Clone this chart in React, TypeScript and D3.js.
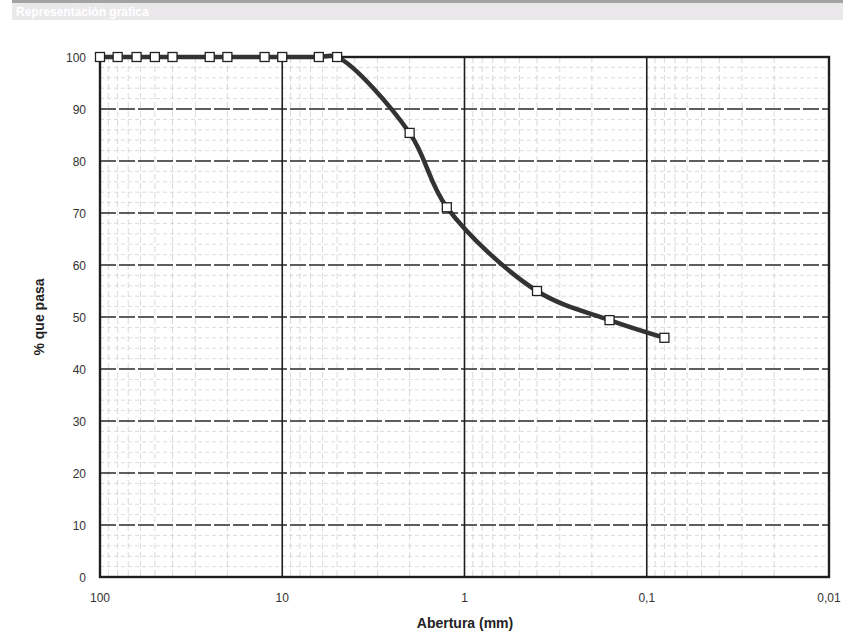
import React from "react";
import * as d3 from "d3";

const sieveSizes = [100, 80, 63, 50, 40, 25, 20, 12.5, 10, 6.3, 5, 2, 1.25, 0.4, 0.16, 0.08];
const percentPassing = [100, 100, 100, 100, 100, 100, 100, 100, 100, 100, 100, 85.4, 71.1, 55.0, 49.4, 46.0];
const xTicks = [100, 10, 1, 0.1, 0.01];
const xTickLabels = ["100", "10", "1", "0,1", "0,01"];
const yTicks = [0, 10, 20, 30, 40, 50, 60, 70, 80, 90, 100];

const W = 843, H = 641;
const L = 100, R = 829, T = 57, B = 577;

export default function App() {
  const x = d3.scaleLog().domain([100, 0.01]).range([L, R]);
  const y = d3.scaleLinear().domain([0, 100]).range([B, T]);

  const minorX: number[] = [];
  [0.01, 0.1, 1, 10].forEach((d) => {
    for (let k = 2; k <= 9; k++) minorX.push(d * k);
  });
  const minorY: number[] = [];
  for (let v = 2; v < 100; v += 2) if (v % 10 !== 0) minorY.push(v);

  const pts = sieveSizes.map((s, i) => [x(s), y(percentPassing[i])] as [number, number]);
  const line = d3.line().curve(d3.curveCatmullRom.alpha(0.5))(pts) || "";

  const font = "'Liberation Sans', Arial, sans-serif";

  return (
    <svg width={W} height={H} style={{ position: "absolute", left: 0, top: 0, background: "#fff" }}>
      {/* faded header strip */}
      <rect x={12} y={0} width={831} height={3} fill="#666" opacity={0.6} />
      <rect x={12} y={3} width={831} height={17} fill="#ebe8ec" />
      <text x={16} y={16} fontFamily={font} fontSize={12} fontWeight="bold" fill="#ffffff">
        Representación gráfica
      </text>

      {/* minor vertical grid */}
      {minorX.map((v, i) => (
        <line key={"mx" + i} x1={x(v)} x2={x(v)} y1={T} y2={B} stroke="#cfcfcf" strokeWidth={0.8} strokeDasharray="6,3" />
      ))}
      {/* minor horizontal grid */}
      {minorY.map((v, i) => (
        <line key={"my" + i} x1={L} x2={R} y1={y(v)} y2={y(v)} stroke="#d2d2d2" strokeWidth={0.8} strokeDasharray="4,3" />
      ))}
      {/* major horizontal grid */}
      {yTicks.slice(1, -1).map((v) => (
        <line key={"hy" + v} x1={L} x2={R} y1={y(v)} y2={y(v)} stroke="#2a2a2a" strokeWidth={1.5} strokeDasharray="16,3" />
      ))}
      {/* major vertical grid */}
      {xTicks.slice(1, -1).map((v) => (
        <line key={"vx" + v} x1={x(v)} x2={x(v)} y1={T} y2={B} stroke="#1e1e1e" strokeWidth={1.6} />
      ))}
      {/* frame */}
      <rect x={L} y={T} width={R - L} height={B - T} fill="none" stroke="#1e1e1e" strokeWidth={2.4} />

      {/* y ticks */}
      {yTicks.map((v) => (
        <text key={"yt" + v} x={L - 14} y={y(v) + 4.5} textAnchor="end" fontFamily={font} fontSize={12} fill="#333">
          {v}
        </text>
      ))}
      {/* x ticks */}
      {xTicks.map((v, i) => (
        <text key={"xt" + v} x={x(v)} y={602} textAnchor="middle" fontFamily={font} fontSize={12} fill="#333">
          {xTickLabels[i]}
        </text>
      ))}
      <text x={465} y={628} textAnchor="middle" fontFamily={font} fontSize={14} fontWeight="bold" fill="#222">
        Abertura (mm)
      </text>
      <text
        transform={`translate(44,${(T + B) / 2}) rotate(-90)`}
        textAnchor="middle"
        fontFamily={font}
        fontSize={14}
        fontWeight="bold"
        fill="#222"
      >
        % que pasa
      </text>

      {/* curve */}
      <path d={line} fill="none" stroke="#333" strokeWidth={4.5} strokeLinejoin="round" />
      {pts.map(([px, py], i) => (
        <rect key={"p" + i} x={px - 4.5} y={py - 4.5} width={9} height={9} fill="#fff" stroke="#222" strokeWidth={1.3} />
      ))}
    </svg>
  );
}
